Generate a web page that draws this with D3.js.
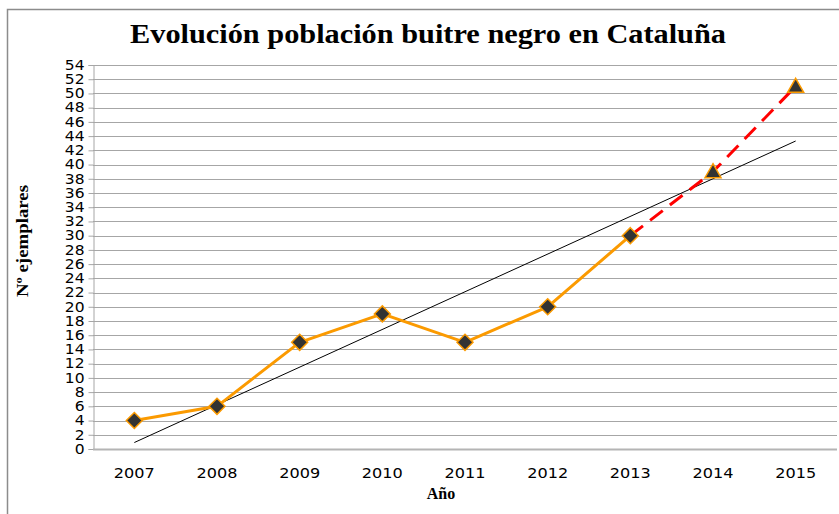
<!DOCTYPE html>
<html>
<head>
<meta charset="utf-8">
<script src="https://cdn.jsdelivr.net/npm/d3@7"></script>
<style>
  body { margin: 0; background: #fff; }
  svg { display: block; }
</style>
</head>
<body>
<svg id="chart" width="839" height="514"></svg>
<script>
// Data
var years = [2007, 2008, 2009, 2010, 2011, 2012, 2013, 2014, 2015];
var counted = [4, 6, 15, 19, 15, 20, 30];        // 2007..2013, solid orange
var projectedYears = [2013, 2014, 2015];
var projected = [30, 39, 51];                     // red dashed, triangles on 2014/2015
var yTicks = d3.range(0, 56, 2);

var titleText = 'Evolución población buitre negro en Cataluña';
var xTitle = 'Año';
var yTitle = 'Nº ejemplares';

var svg = d3.select('#chart');

// Outer chart border
svg.append('rect')
    .attr('x', 7.5).attr('y', 9.5)
    .attr('width', 840).attr('height', 520)
    .attr('fill', 'none')
    .attr('stroke', '#8c8c8c')
    .attr('stroke-width', 1.5);

var plot = { left: 93, right: 837, top: 65, bottom: 449 };

var x = d3.scaleBand()
    .domain(years)
    .range([plot.left, plot.right])
    .padding(0);
var cx = function (yr) { return x(yr) + x.bandwidth() / 2; };

var y = d3.scaleLinear()
    .domain([0, 54])
    .range([plot.bottom, plot.top]);

// Gridlines
svg.append('g')
    .selectAll('line')
    .data(yTicks.slice(1))
    .enter()
    .append('line')
    .attr('x1', plot.left).attr('x2', plot.right)
    .attr('y1', function (d) { return Math.round(y(d)) + 0.5; })
    .attr('y2', function (d) { return Math.round(y(d)) + 0.5; })
    .attr('stroke', '#a6a6a6')
    .attr('stroke-width', 1);

// Y axis
var yAxis = svg.append('g')
    .attr('transform', 'translate(' + (plot.left + 0.5) + ',0)')
    .call(d3.axisLeft(y).tickValues(yTicks).tickSize(5).tickPadding(4));
yAxis.select('.domain').attr('stroke', '#a6a6a6');
yAxis.selectAll('.tick line').attr('stroke', '#a6a6a6');
yAxis.selectAll('.tick text')
    .attr('font-family', 'DejaVu Sans, Verdana, sans-serif')
    .attr('font-size', 13.5)
    .attr('fill', '#000')
    .attr('transform', 'scale(1.15,1)')
    .attr('x', -9 / 1.15);

// X axis (baseline only, no ticks)
svg.append('line')
    .attr('x1', plot.left).attr('x2', plot.right)
    .attr('y1', plot.bottom + 0.5).attr('y2', plot.bottom + 0.5)
    .attr('stroke', '#b4b4b4')
    .attr('stroke-width', 2);

svg.append('g')
    .selectAll('text')
    .data(years)
    .enter()
    .append('text')
    .attr('transform', function (d) { return 'translate(' + cx(d) + ',478) scale(1.15,1)'; })
    .attr('text-anchor', 'middle')
    .attr('font-family', 'DejaVu Sans, Verdana, sans-serif')
    .attr('font-size', 14)
    .text(function (d) { return d; });

// Linear trendline over all nine points
var allVals = counted.concat(projected.slice(1));
var n = allVals.length;
var idx = d3.range(1, n + 1);
var mx = d3.mean(idx), my = d3.mean(allVals);
var slope = d3.sum(idx, function (i, k) { return (i - mx) * (allVals[k] - my); }) /
            d3.sum(idx, function (i) { return (i - mx) * (i - mx); });
var icpt = my - slope * mx;
svg.append('line')
    .attr('x1', cx(years[0])).attr('y1', y(icpt + slope * 1))
    .attr('x2', cx(years[n - 1])).attr('y2', y(icpt + slope * n))
    .attr('stroke', '#000')
    .attr('stroke-width', 1);

var line = d3.line()
    .x(function (d) { return cx(d[0]); })
    .y(function (d) { return y(d[1]); });

// Projection (red dashed)
svg.append('path')
    .datum(d3.zip(projectedYears, projected))
    .attr('d', line)
    .attr('fill', 'none')
    .attr('stroke', '#ff0000')
    .attr('stroke-width', 3)
    .attr('stroke-dasharray', '16,9');

// Counted series (orange)
var countedPts = d3.zip(years.slice(0, counted.length), counted);
svg.append('path')
    .datum(countedPts)
    .attr('d', line)
    .attr('fill', 'none')
    .attr('stroke', '#fb9a00')
    .attr('stroke-width', 3)
    .attr('stroke-linejoin', 'round');

svg.append('g')
    .selectAll('path')
    .data(countedPts)
    .enter()
    .append('path')
    .attr('transform', function (d) { return 'translate(' + cx(d[0]) + ',' + y(d[1]) + ')'; })
    .attr('d', 'M0,-8L8,0L0,8L-8,0Z')
    .attr('fill', '#333333')
    .attr('stroke', '#fb9a00')
    .attr('stroke-width', 1.5);

svg.append('g')
    .selectAll('path')
    .data(d3.zip(projectedYears, projected).slice(1))
    .enter()
    .append('path')
    .attr('transform', function (d) { return 'translate(' + cx(d[0]) + ',' + y(d[1]) + ')'; })
    .attr('d', 'M0,-8L8,6L-8,6Z')
    .attr('fill', '#333333')
    .attr('stroke', '#fb9a00')
    .attr('stroke-width', 1.5);

// Titles
svg.append('text')
    .attr('x', 428).attr('y', 43)
    .attr('text-anchor', 'middle')
    .attr('font-family', 'Liberation Serif, Times New Roman, serif')
    .attr('font-weight', 'bold')
    .attr('font-size', 28)
    .attr('textLength', 596)
    .attr('lengthAdjust', 'spacingAndGlyphs')
    .text(titleText);

svg.append('text')
    .attr('x', 441).attr('y', 499)
    .attr('text-anchor', 'middle')
    .attr('font-family', 'Liberation Serif, Times New Roman, serif')
    .attr('font-weight', 'bold')
    .attr('font-size', 16)
    .text(xTitle);

svg.append('text')
    .attr('transform', 'translate(28,241) rotate(-90)')
    .attr('text-anchor', 'middle')
    .attr('font-family', 'Liberation Serif, Times New Roman, serif')
    .attr('font-weight', 'bold')
    .attr('font-size', 16)
    .attr('textLength', 112)
    .attr('lengthAdjust', 'spacingAndGlyphs')
    .text(yTitle);
</script>
</body>
</html>
